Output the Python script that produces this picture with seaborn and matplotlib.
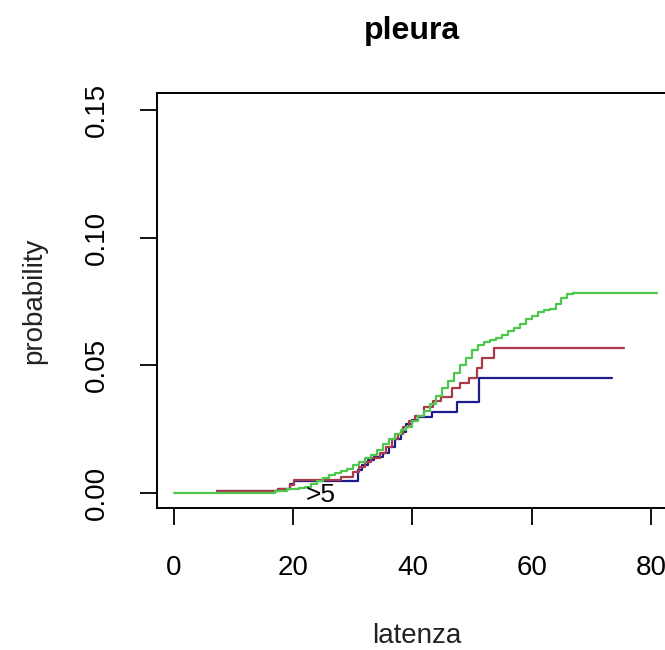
import pandas as pd
import matplotlib.pyplot as plt
import seaborn as sns

# step points (x = latenza, y = cumulative probability)
blue_x = [7.2, 17.4, 19.5, 20.2, 30.8, 31.5, 32.5, 33.5, 35.0, 36.0, 37.0, 38.0, 39.0, 40.0,
          41.0, 43.3, 47.5, 51.2, 73.4]
blue_y = [0.0008, 0.0016, 0.0033, 0.0047, 0.0090, 0.0110, 0.0130, 0.0140, 0.0155, 0.0180,
          0.0210, 0.0240, 0.0270, 0.0285, 0.0298, 0.0317, 0.0356, 0.0450, 0.0450]

red_x = [7.2, 17.4, 19.5, 20.2, 28.0, 30.0, 31.0, 32.0, 33.0, 34.5, 35.5, 36.5, 37.5, 38.5,
         39.5, 40.5, 42.0, 43.5, 44.8, 46.7, 48.0, 49.5, 50.8, 51.7, 53.7, 75.4]
red_y = [0.0008, 0.0016, 0.0030, 0.0050, 0.0063, 0.0080, 0.0100, 0.0120, 0.0135, 0.0155,
         0.0180, 0.0210, 0.0230, 0.0260, 0.0280, 0.0300, 0.0335, 0.0360, 0.0376, 0.0410,
         0.0430, 0.0450, 0.0490, 0.0530, 0.0566, 0.0566]

green_x = [0, 17, 19, 21, 22, 23, 24, 25, 26, 27, 28, 29, 30, 31, 32, 33, 34, 35, 36, 37,
           38, 39, 40, 41, 42, 43, 44, 45, 46, 47, 48, 49, 50, 51, 52, 53, 54, 55, 56, 57,
           58, 59, 60, 61, 62, 63, 64, 65, 66, 67, 81]
green_y = [0.0, 0.0008, 0.0015, 0.0020, 0.0025, 0.0035, 0.0045, 0.0060, 0.0070, 0.0078,
           0.0085, 0.0095, 0.0110, 0.0120, 0.0135, 0.0150, 0.0170, 0.0190, 0.0210, 0.0230,
           0.0245, 0.0260, 0.0280, 0.0300, 0.0320, 0.0350, 0.0380, 0.0410, 0.0440, 0.0470,
           0.0500, 0.0530, 0.0560, 0.0580, 0.0590, 0.0600, 0.0607, 0.0620, 0.0635, 0.0645,
           0.0660, 0.0680, 0.0695, 0.0710, 0.0715, 0.0722, 0.0740, 0.0765, 0.0778, 0.0783,
           0.0783]

x_ticks = [0, 20, 40, 60, 80]
y_ticks = [0.00, 0.05, 0.10, 0.15]
y_tick_labels = ['0.00', '0.05', '0.10', '0.15']

df = pd.concat([
    pd.DataFrame({'latenza': blue_x, 'probability': blue_y, 'group': 'blue'}),
    pd.DataFrame({'latenza': red_x, 'probability': red_y, 'group': 'red'}),
    pd.DataFrame({'latenza': green_x, 'probability': green_y, 'group': 'green'}),
])
palette = {'blue': '#1c1c8c', 'red': '#a83a4a', 'green': '#4cc84c'}

sns.set_theme(style='ticks')
plt.rcParams['font.family'] = ['Liberation Sans Narrow', 'Liberation Sans', 'DejaVu Sans']

fig = plt.figure(figsize=(6.65, 6.5), dpi=100)
ax = fig.add_axes([0.236, 0.2185, 0.7805, 0.6385])

sns.lineplot(data=df, x='latenza', y='probability', hue='group', palette=palette,
             drawstyle='steps-post', linewidth=1.6, legend=False, ax=ax, estimator=None)

ax.text(24.6, -0.0008, '>5', ha='center', va='center', fontsize=19, color='black')

ax.set_xlim(-2.85, 84.2)
ax.set_ylim(-0.0059, 0.1567)
ax.set_xticks(x_ticks)
ax.set_yticks(y_ticks)
ax.set_yticklabels(y_tick_labels, rotation=90, va='center')
ax.tick_params(axis='both', direction='out', length=12, width=1.3, labelsize=20, pad=22,
               colors='black')
for s in ax.spines.values():
    s.set_linewidth(1.4)
    s.set_color('black')
    s.set_visible(True)

ax.set_xlabel('latenza', fontsize=20, labelpad=30, color='#222222')
ax.set_ylabel('probability', fontsize=20, labelpad=26, color='#222222')
fig.text(0.619, 0.952, 'pleura', ha='center', va='center', fontsize=23, fontweight='bold',
         color='black', family=['Liberation Sans', 'DejaVu Sans'])

fig.savefig('out.png', dpi=100)
plt.close()
